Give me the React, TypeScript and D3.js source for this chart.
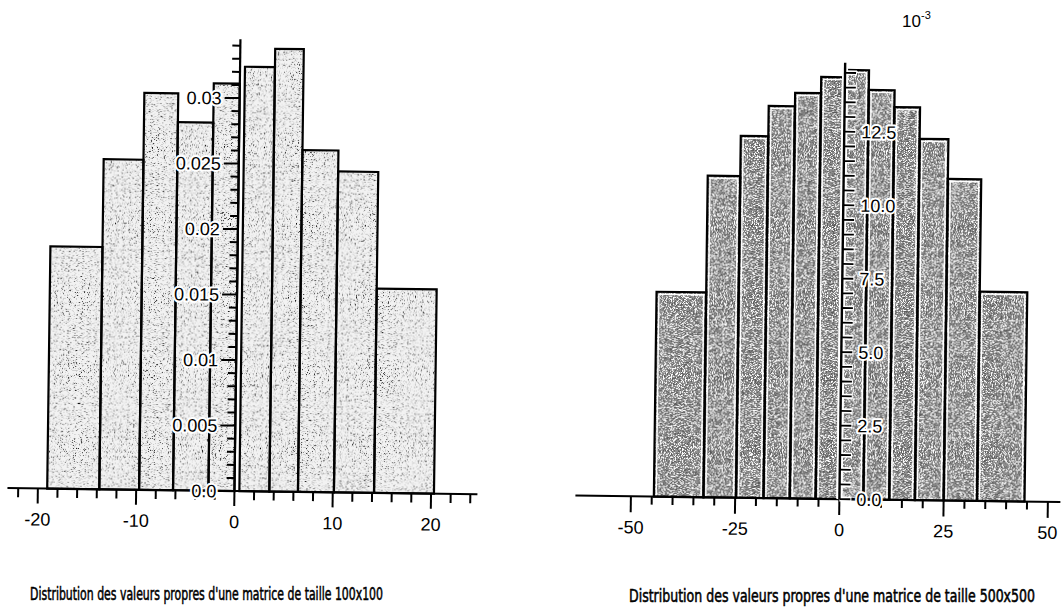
import React from "react";
import * as d3 from "d3";

const W = 1063;
const H = 613;

// --- 100x100 matrix histogram (left) ---
const leftBinLo = [-19.05, -13.75, -9.7, -6.25, -2.65, 0.5, 3.55, 6.46, 10.12, 14.2];
const leftBinHi = [-13.75, -9.7, -6.25, -2.65, 0, 3.55, 6.46, 10.12, 14.2, 20.3];
const leftDensity = [0.0185, 0.0252, 0.0303, 0.0281, 0.0311, 0.0324, 0.0338, 0.0261, 0.0245, 0.0156];
const leftXLabels = [-20, -10, 0, 10, 20];
const leftYValues = [0, 0.005, 0.01, 0.015, 0.02, 0.025, 0.03];
const leftYLabels = ["0.0", "0.005", "0.01", "0.015", "0.02", "0.025", "0.03"];

// --- 500x500 matrix histogram (right), values in 10^-3 ---
const rightEdges = [-44.5, -32.6, -24.8, -18.2, -11.9, -5.7, 0, 5.75, 11.95, 18.1, 25, 33, 44.4];
const rightDensity = [6.97, 10.94, 12.31, 13.34, 13.8, 14.35, 14.6, 13.93, 13.36, 12.29, 10.94, 7.12];
const rightXLabels = [-50, -25, 0, 25, 50];
const rightYValues = [0, 2.5, 5, 7.5, 10, 12.5];
const rightYLabels = ["0.0", "2.5", "5.0", "7.5", "10.0", "12.5"];

const captions = [
  "Distribution des valeurs propres d'une matrice de taille 100x100",
  "Distribution des valeurs propres d'une matrice de taille 500x500",
];

const tickFont = "'Liberation Sans', Arial, sans-serif";
const capFont = "'Liberation Sans Narrow', 'DejaVu Sans Condensed', sans-serif";

function Defs() {
  return (
    <defs>
      <filter id="grainLight" x="0" y="0" width="1" height="1">
        <feTurbulence type="fractalNoise" baseFrequency="0.85" numOctaves={2} seed={4} result="noise" />
        <feColorMatrix in="noise" type="matrix"
          values="0 0 0 0 0  0 0 0 0 0  0 0 0 0 0  -22 0 0 0 7.6" result="blk" />
        <feColorMatrix in="noise" type="matrix"
          values="0 0 0 0 0.6  0 0 0 0 0.6  0 0 0 0 0.6  0 -20 0 0 8.4" result="gry" />
        <feComposite in="blk" in2="SourceGraphic" operator="in" result="blkIn" />
        <feComposite in="gry" in2="SourceGraphic" operator="in" result="gryIn" />
        <feMerge>
          <feMergeNode in="SourceGraphic" />
          <feMergeNode in="gryIn" />
          <feMergeNode in="blkIn" />
        </feMerge>
      </filter>
      <filter id="grainDark" x="0" y="0" width="1" height="1">
        <feTurbulence type="fractalNoise" baseFrequency="0.9" numOctaves={2} seed={7} result="noise" />
        <feColorMatrix in="noise" type="matrix"
          values="0 0 0 0 0.1  0 0 0 0 0.1  0 0 0 0 0.1  -25 0 0 0 12.3" result="blk" />
        <feColorMatrix in="noise" type="matrix"
          values="0 0 0 0 1  0 0 0 0 1  0 0 0 0 1  0 25 0 0 -14.2" result="wht" />
        <feComposite in="blk" in2="SourceGraphic" operator="in" result="blkIn" />
        <feComposite in="wht" in2="SourceGraphic" operator="in" result="whtIn" />
        <feMerge>
          <feMergeNode in="SourceGraphic" />
          <feMergeNode in="blkIn" />
          <feMergeNode in="whtIn" />
        </feMerge>
      </filter>
    </defs>
  );
}

function LeftChart() {
  const x = d3.scaleLinear().domain([-20, 20]).range([237 - 196.6, 237 + 196.6]);
  const y = d3.scaleLinear().domain([0, 0.0345]).range([495, 495 - 0.0345 * 13100]);
  const minorX = d3.range(-22, 25, 2);
  const minorY = d3.range(0, 0.0345, 0.001);
  const x0 = x(0);
  return (
    <g>
      {leftDensity.map((d, i) => (
        <rect key={"f" + i} x={x(leftBinLo[i])} y={y(d)}
          width={x(leftBinHi[i]) - x(leftBinLo[i])} height={y(0) - y(d)}
          fill="#f2f2f2" filter="url(#grainLight)" />
      ))}
      {leftDensity.map((d, i) => (
        <rect key={"s" + i} x={x(leftBinLo[i])} y={y(d)}
          width={x(leftBinHi[i]) - x(leftBinLo[i])} height={y(0) - y(d)}
          fill="none" stroke="#000" strokeWidth={2.2} />
      ))}
      {/* x axis */}
      <line x1={10} x2={480} y1={y(0)} y2={y(0)} stroke="#000" strokeWidth={2} />
      {minorX.map((t) => (
        <line key={"xt" + t} x1={x(t)} x2={x(t)} y1={y(0)} y2={y(0) + (t % 10 === 0 ? 15 : 9)}
          stroke="#000" strokeWidth={2} />
      ))}
      {leftXLabels.map((t) => (
        <text key={"xl" + t} x={x(t)} y={532} textAnchor="middle" fontFamily={tickFont} fontSize={18}>
          {t}
        </text>
      ))}
      {/* y axis */}
      {minorY.map((t, i) => (
        <line key={"yt" + i} x1={x0 - (i % 5 === 0 ? 15 : 8)} x2={x0} y1={y(t)} y2={y(t)}
          stroke="#000" strokeWidth={2} />
      ))}
      <line x1={x0} x2={x0} y1={y(0)} y2={y.range()[1]} stroke="#000" strokeWidth={2.2} />
      {leftYValues.map((v, i) => (
        <text key={"yl" + i} x={x0 - 18} y={y(v) + 6.5} textAnchor="end" fontFamily={tickFont} fontSize={18}
          stroke="#fff" strokeWidth={4} paintOrder="stroke" strokeLinejoin="round">
          {leftYLabels[i]}
        </text>
      ))}
    </g>
  );
}

function RightChart() {
  const x = d3.scaleLinear().domain([-50, 50]).range([842 - 208.5, 842 + 208.5]);
  const y = d3.scaleLinear().domain([0, 14.84]).range([495, 495 - 14.84 * 29.4]);
  const minorX = d3.range(-50, 51, 5);
  const minorY = d3.range(0, 14.8, 0.5);
  const x0 = x(0);
  const bars = rightDensity.map((d, i) => ({ lo: rightEdges[i], hi: rightEdges[i + 1], d }));
  return (
    <g>
      {bars.map((b, i) => (
        <rect key={"f" + i} x={x(b.lo)} y={y(b.d)} width={x(b.hi) - x(b.lo)} height={y(0) - y(b.d)}
          fill="#8e8e8e" filter="url(#grainDark)" />
      ))}
      {bars.map((b, i) => (
        <rect key={"w" + i} x={x(b.lo) + 2.4} y={y(b.d) + 2.4} width={x(b.hi) - x(b.lo) - 4.8}
          height={y(0) - y(b.d) - 2.4} fill="none" stroke="#fff" strokeWidth={1.4} />
      ))}
      {bars.map((b, i) => (
        <rect key={"s" + i} x={x(b.lo)} y={y(b.d)} width={x(b.hi) - x(b.lo)} height={y(0) - y(b.d)}
          fill="none" stroke="#000" strokeWidth={2.2} />
      ))}
      {/* x axis */}
      <line x1={578} x2={1063} y1={y(0)} y2={y(0)} stroke="#000" strokeWidth={2} />
      {minorX.map((t) => (
        <line key={"xt" + t} x1={x(t)} x2={x(t)} y1={y(0)} y2={y(0) + (t % 25 === 0 ? 16 : 8)}
          stroke="#000" strokeWidth={2} />
      ))}
      {rightXLabels.map((t) => (
        <text key={"xl" + t} x={x(t)} y={532} textAnchor="middle" fontFamily={tickFont} fontSize={18}>
          {t}
        </text>
      ))}
      {/* y axis with white halo */}
      {minorY.map((t, i) => (
        <line key={"yh" + i} x1={x0} x2={x0 + 12} y1={y(t)} y2={y(t)} stroke="#fff" strokeWidth={5} />
      ))}
      <line x1={x0} x2={x0} y1={y(0)} y2={y.range()[1]} stroke="#fff" strokeWidth={6} />
      {minorY.map((t, i) => (
        <line key={"yt" + i} x1={x0} x2={x0 + 11} y1={y(t)} y2={y(t)} stroke="#000" strokeWidth={1.8} />
      ))}
      <line x1={x0} x2={x0} y1={y(0)} y2={y.range()[1]} stroke="#000" strokeWidth={2.4} />
      {rightYValues.map((v, i) => (
        <text key={"yl" + i} x={x0 + 17} y={y(v) + 6.5} textAnchor="start" fontFamily={tickFont} fontSize={18}
          stroke="#fff" strokeWidth={4} paintOrder="stroke" strokeLinejoin="round">
          {rightYLabels[i]}
        </text>
      ))}
    </g>
  );
}

export default function App() {
  return (
    <svg width={W} height={H} viewBox={`0 0 ${W} ${H}`}
      style={{ position: "absolute", left: 0, top: 0, background: "#fff" }}>
      <Defs />
      <rect width={W} height={H} fill="#fff" />
      {/* the scan is tilted slightly clockwise */}
      <g transform="rotate(0.76 531 300)">
        <LeftChart />
        <RightChart />
      </g>
      <text x={902} y={27} fontFamily={tickFont} fontSize={17}>10</text>
      <text x={921} y={19} fontFamily={tickFont} fontSize={11}>-3</text>
      {/* captions: narrow, tall lettering */}
      <g transform="translate(30,600) scale(1,1.25)">
        <text x={0} y={0} fontFamily={capFont} fontSize={14.5} stroke="#000" strokeWidth={0.45}
          textLength={353} lengthAdjust="spacingAndGlyphs">
          {captions[0]}
        </text>
      </g>
      <g transform="translate(629,602) scale(1,1.25)">
        <text x={0} y={0} fontFamily={capFont} fontSize={14.5} stroke="#000" strokeWidth={0.45}
          textLength={406} lengthAdjust="spacingAndGlyphs">
          {captions[1]}
        </text>
      </g>
    </svg>
  );
}
